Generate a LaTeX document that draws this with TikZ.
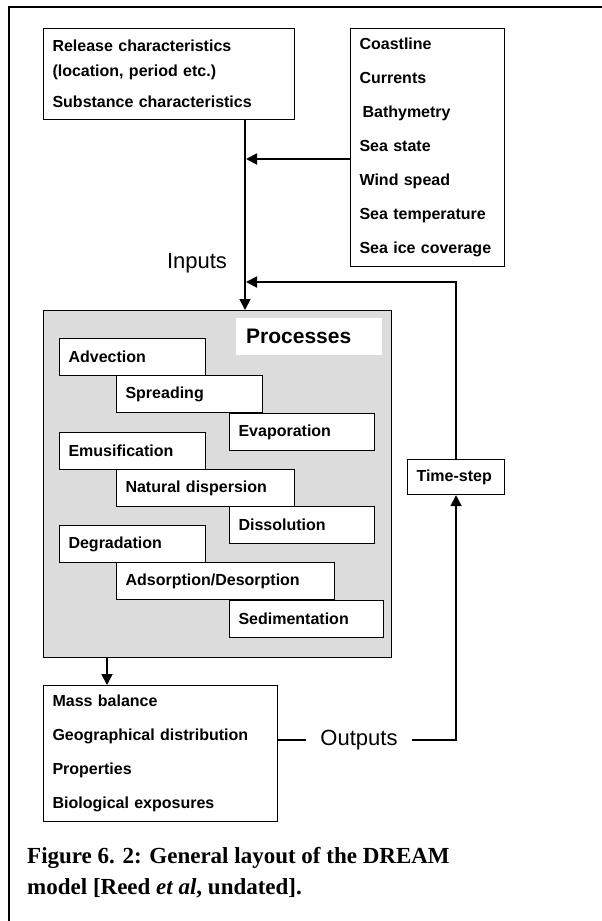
\documentclass[tikz,border=0pt]{standalone}
\usepackage{fontspec}
\setmainfont{Liberation Serif}
\setsansfont{Liberation Sans}
\usetikzlibrary{arrows.meta}
\definecolor{procgray}{HTML}{DCDCDC}
\tikzset{
  frame/.style={line width=1.5pt},
  boxstyle/.style={draw, line width=1.1pt, fill=white, anchor=north west, inner xsep=9pt, inner ysep=0pt, align=left, font=\sffamily\bfseries\fontsize{16}{18}\selectfont},
  pbox/.style={boxstyle, minimum height=37pt, text width=#1},
  conn/.style={line width=1.8pt},
  tip/.style={-{Triangle[length=11pt,width=11pt]}},
  biglabel/.style={font=\sffamily\fontsize{22}{24}\selectfont, inner sep=0pt}
}
\begin{document}
\begin{tikzpicture}[x=1pt,y=-1pt]
\useasboundingbox (0,0) rectangle (602,921);
% frame
\draw[frame] (602,7) -- (9,7) -- (9,921);
% input boxes
\node[boxstyle, minimum width=251pt, minimum height=91pt, text width=233pt,
      font=\sffamily\bfseries\fontsize{16}{25}\selectfont] (rel) at (43,28)
  {Release characteristics\\(location, period etc.)\\[6pt]Substance characteristics};
\node[boxstyle, minimum width=154pt, minimum height=238pt, text width=136pt, inner xsep=9pt,
      font=\sffamily\bfseries\fontsize{16}{34}\selectfont] (env) at (350,28)
  {Coastline\\Currents\\\hspace*{3pt}Bathymetry\\Sea state\\Wind spead\\Sea temperature\\Sea ice coverage};
% processes box
\node[draw, line width=1.1pt, fill=procgray, anchor=north west, minimum width=348pt, minimum height=347pt, inner sep=0pt] (proc) at (43,310) {};
\node[fill=white, anchor=north west, minimum width=146pt, minimum height=37pt, inner xsep=10pt, inner ysep=0pt, text width=126pt, align=left, font=\sffamily\bfseries\fontsize{21}{24}\selectfont] (plab) at (236,318) {Processes};
\node[pbox=128pt] (adv) at (59,338) {Advection};
\node[pbox=128pt] (spr) at (116,375) {Spreading};
\node[pbox=127pt] (eva) at (229,413) {Evaporation};
\node[pbox=128pt] (emu) at (59,432) {Emusification};
\node[pbox=160pt] (nat) at (116,469) {Natural dispersion};
\node[pbox=127pt] (dis) at (229,506) {Dissolution};
\node[pbox=128pt] (deg) at (59,525) {Degradation};
\node[pbox=200pt] (ads) at (116,562) {Adsorption/Desorption};
\node[pbox=136pt] (sed) at (229,600) {Sedimentation};
% outputs
\node[boxstyle, minimum width=234pt, minimum height=136pt, text width=216pt,
      font=\sffamily\bfseries\fontsize{16}{34}\selectfont] (out) at (43,685)
  {Mass balance\\Geographical distribution\\Properties\\Biological exposures};
\node[boxstyle, minimum width=97pt, minimum height=35pt, text width=79pt] (ts) at (407,459) {Time-step};
% labels
\node[biglabel] (inl) at (197,263) {Inputs};
\node[biglabel, inner xsep=14pt] (outl) at (359,740) {Outputs};
% coordinates
\coordinate (vx) at (245,0);
\coordinate (j1) at (246,159);
\coordinate (fb) at (246,282);
\coordinate (ax) at (107,0);
% connectors
\draw[conn, tip] (rel.south -| vx) -- (proc.north -| vx);
\draw[conn, tip] (env.west |- j1) -- (j1);
\draw[conn, tip] (ts.north) -- (ts.north |- fb) -- (fb);
\draw[conn, tip] (proc.south -| ax) -- (out.north -| ax);
\draw[conn] (out.east |- outl) -- (outl.west);
\draw[conn, tip] (outl.east) -- (outl.east -| ts.south) -- (ts.south);
% caption
\node[anchor=base west, inner sep=0pt, align=left, font=\rmfamily\bfseries\fontsize{23}{31}\selectfont] (cap) at (27,894)
  {Figure 6. 2: General layout of the DREAM\\model [Reed \textit{et al}, undated].};
\end{tikzpicture}
\end{document}
